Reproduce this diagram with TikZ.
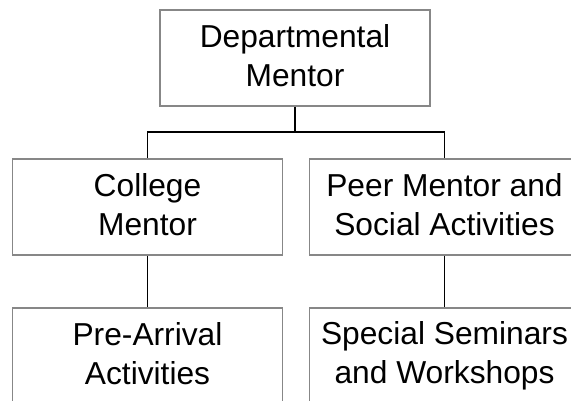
\documentclass[tikz,border=0pt]{standalone}
\usepackage{fontspec}
\setmainfont{Liberation Sans}
\usepackage{xcolor}
\usepackage{tikz}
\usetikzlibrary{positioning,calc}
\definecolor{boxgray}{RGB}{135,135,135}
\tikzset{
  orgbox/.style={rectangle,draw=boxgray,line width=1.2pt,fill=white,
    minimum width=202.5pt,minimum height=72pt,inner sep=0pt,align=center,
    font=\fontsize{23.8}{29.25}\selectfont,
    execute at begin node=\rule{0pt}{20.5pt},
    execute at end node=\rule[-3.5pt]{0pt}{3.5pt}},
  orglink/.style={black,line width=1.1pt}
}
\begin{document}
\begin{tikzpicture}[x=0.75pt,y=-0.75pt]
  \useasboundingbox (0,0) rectangle (571,400);
  \node[orgbox] (dept) at (295,58) {Departmental\\Mentor};
  \node[orgbox] (college) at (147.5,207) {College\\Mentor};
  \node[orgbox] (peer) at (444.5,207) {Peer Mentor and\\Social Activities};
  \node[orgbox] (prearr) at (147.5,356) {Pre-Arrival\\Activities};
  \node[orgbox] (seminar) at (444.5,356) {Special Seminars\\and Workshops};
  \coordinate (bar) at (dept.south |- 0,132);
  \draw[orglink] (dept.south) -- (bar);
  \draw[orglink] (college.north) |- (bar) -| (peer.north);
  \draw[orglink] (college.south) -- (prearr.north);
  \draw[orglink] (peer.south) -- (seminar.north);
\end{tikzpicture}
\end{document}
